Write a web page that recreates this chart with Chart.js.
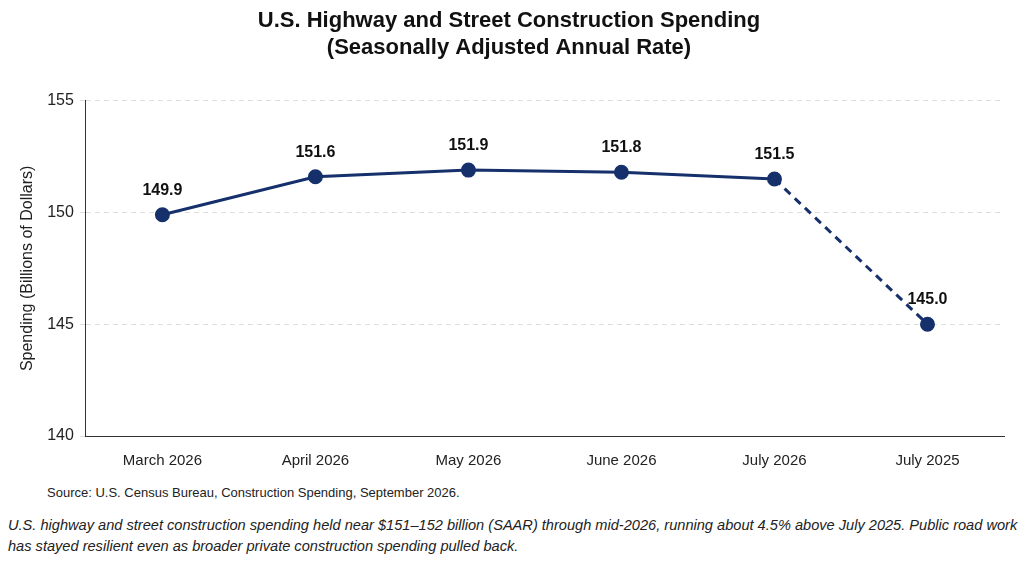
<!DOCTYPE html>
<html><head><meta charset="utf-8">
<script src="https://cdn.jsdelivr.net/npm/chart.js@4/dist/chart.umd.min.js"></script>
<style>
body{margin:0;background:#fff;font-family:"Liberation Sans",Arial,sans-serif;}
#wrap{position:relative;width:1024px;height:562px;}
#chartBox{position:absolute;left:0;top:0;width:1024px;height:478px;}
#src{position:absolute;left:47px;top:485px;font-size:13px;color:#222;}
#cap{position:absolute;left:8px;top:515px;width:1012px;font-size:14.6px;font-style:italic;color:#222;line-height:21px;}
</style></head><body>
<div id="wrap">
<div id="chartBox"><canvas id="c"></canvas></div>
<div id="src">Source: U.S. Census Bureau, Construction Spending, September 2026.</div>
<div id="cap">U.S. highway and street construction spending held near $151–152 billion (SAAR) through mid-2026, running about 4.5% above July 2025. Public road work has stayed resilient even as broader private construction spending pulled back.</div>
</div>
<script>
// ===================== DATA =====================
const months=['March 2026','April 2026','May 2026','June 2026','July 2026','July 2025'];
const spending=[149.9,151.6,151.9,151.8,151.5,145.0];
const yTicks=[140,145,150,155];
const NAVY='#15306b';

// value labels above each point
const pointLabels={id:'pointLabels',afterDatasetsDraw(chart){
  const ctx=chart.ctx;const meta=chart.getDatasetMeta(0);
  ctx.save();ctx.font='bold 16px "Liberation Sans", Arial';ctx.fillStyle='#111';ctx.textAlign='center';
  meta.data.forEach((p,i)=>ctx.fillText(spending[i].toFixed(1),p.x,p.y-20));
  ctx.restore();
}};

new Chart(document.getElementById('c'),{type:'line',
  data:{labels:months,datasets:[{data:spending,borderColor:NAVY,backgroundColor:NAVY,borderWidth:3,
    pointRadius:6,pointHoverRadius:6,tension:0,
    segment:{borderDash:c=>c.p1DataIndex===spending.length-1?[8,6]:undefined}}]},
  options:{responsive:true,maintainAspectRatio:false,animation:false,
    layout:{padding:{left:14,right:20,top:0,bottom:0}},
    plugins:{legend:{display:false},tooltip:{enabled:false},
      title:{display:true,text:['U.S. Highway and Street Construction Spending','(Seasonally Adjusted Annual Rate)'],
        color:'#111',font:{family:'Liberation Sans',size:22,weight:'bold'},padding:{top:8,bottom:40},lineHeight:1.25}},
    scales:{
      x:{offset:true,grid:{display:false},border:{color:'#333',width:1},
        ticks:{color:'#222',font:{family:'Liberation Sans',size:15},padding:8}},
      y:{min:140,max:155,afterBuildTicks:a=>{a.ticks=yTicks.map(v=>({value:v}));},
        grid:{color:'#dddddd',drawTicks:true,tickLength:6},border:{color:'#333',dash:[5,4]},
        ticks:{color:'#222',font:{family:'Liberation Sans',size:16},padding:6},
        title:{display:true,text:'Spending (Billions of Dollars)',color:'#222',font:{family:'Liberation Sans',size:16}}}
    }},
  plugins:[pointLabels]
});
</script>
</body></html>
